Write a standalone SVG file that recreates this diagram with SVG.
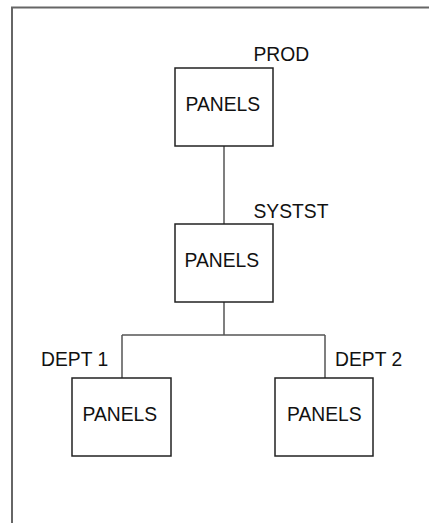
<svg xmlns="http://www.w3.org/2000/svg" width="429" height="523" viewBox="0 0 429 523">
<style>
.frame{fill:none;stroke:#666;stroke-width:2}
.box{fill:#fff;stroke:#222;stroke-width:1.5}
.conn{fill:none;stroke:#555;stroke-width:1.5}
text{font-family:"Liberation Sans",Arial,sans-serif;font-size:19.3px;fill:#111}
</style>
<rect width="429" height="523" fill="#fff"/>
<path class="frame" d="M12 523 V7.5 H430"/>
<g id="connectors">
<path class="conn" d="M224 146 V224"/>
<path class="conn" d="M224 302 V335 M122 335 H325 M122 335 V378 M325 335 V378"/>
</g>
<g id="prod">
<rect class="box" x="175" y="68" width="98" height="78"/>
<text x="185.5" y="111">PANELS</text>
<text x="253.5" y="61">PROD</text>
</g>
<g id="systst">
<rect class="box" x="175" y="224" width="98" height="78"/>
<text x="184.5" y="267">PANELS</text>
<text x="253.5" y="218">SYSTST</text>
</g>
<g id="dept1">
<rect class="box" x="72" y="378" width="99" height="78"/>
<text x="41" y="366">DEPT 1</text>
<text x="82.5" y="421">PANELS</text>
</g>
<g id="dept2">
<rect class="box" x="275" y="378" width="98" height="78"/>
<text x="287" y="421">PANELS</text>
<text x="335" y="366">DEPT 2</text>
</g>
</svg>
